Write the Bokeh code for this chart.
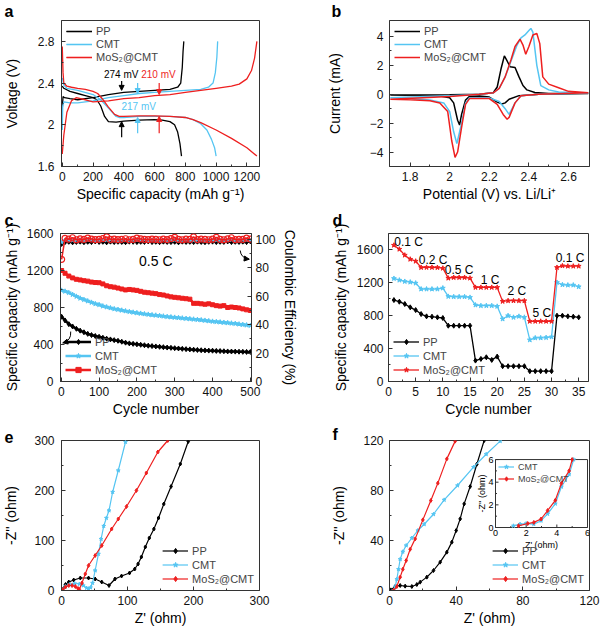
import math
from bokeh.plotting import figure
from bokeh.models import (Range1d, LinearAxis, FixedTicker, Legend, LegendItem,
                          Title, Arrow, NormalHead)
from bokeh.layouts import column, row
from bokeh.embed import file_html
from bokeh.resources import INLINE
from bokeh.core.properties import value

FONT = "Liberation Sans"
C_PP, C_CMT, C_MOS = "#000000", "#55C5F2", "#EE1F1F"
AX = "#333333"
NAMES = ["PP", "CMT", "MoS₂@CMT"]

# ---------------- (a) charge/discharge profiles ----------------
a_pp_dis_cap = [0, 10, 50, 100, 150, 200, 225, 250, 275, 300, 350, 400, 500, 600, 650, 700, 730, 750, 765, 775]
a_pp_dis_v = [2.37, 2.35, 2.32, 2.30, 2.28, 2.26, 2.24, 2.18, 2.08, 2.03, 2.025, 2.035, 2.045, 2.05, 2.045, 2.03, 2.0, 1.93, 1.82, 1.70]
a_pp_chg_cap = [0, 5, 15, 50, 100, 200, 300, 400, 500, 600, 700, 750, 770, 780, 785, 790]
a_pp_chg_v = [2.15, 2.27, 2.26, 2.25, 2.24, 2.26, 2.29, 2.31, 2.32, 2.33, 2.34, 2.36, 2.40, 2.55, 2.70, 2.80]
a_cmt_dis_cap = [0, 10, 30, 100, 200, 250, 300, 350, 370, 400, 500, 600, 700, 800, 850, 900, 940, 970, 990, 1000]
a_cmt_dis_v = [2.45, 2.38, 2.35, 2.33, 2.29, 2.24, 2.16, 2.08, 2.07, 2.07, 2.08, 2.08, 2.08, 2.07, 2.05, 2.01, 1.95, 1.86, 1.78, 1.70]
a_cmt_chg_cap = [0, 3, 10, 50, 100, 200, 300, 400, 500, 600, 700, 800, 900, 950, 980, 995, 1005, 1010]
a_cmt_chg_v = [1.95, 2.18, 2.22, 2.21, 2.21, 2.23, 2.26, 2.28, 2.30, 2.31, 2.32, 2.33, 2.34, 2.36, 2.40, 2.50, 2.65, 2.80]
a_mos_dis_cap = [0, 5, 10, 30, 60, 100, 150, 200, 230, 260, 300, 340, 370, 400, 500, 600, 700, 800, 850, 900, 1000, 1100, 1200, 1265]
a_mos_dis_v = [2.75, 2.50, 2.40, 2.37, 2.36, 2.35, 2.34, 2.32, 2.30, 2.25, 2.17, 2.10, 2.08, 2.08, 2.085, 2.085, 2.08, 2.07, 2.05, 2.02, 1.95, 1.87, 1.78, 1.70]
a_mos_chg_cap = [0, 10, 30, 60, 90, 150, 200, 300, 400, 500, 600, 700, 800, 900, 1000, 1100, 1150, 1200, 1230, 1250, 1265]
a_mos_chg_v = [1.72, 1.90, 2.12, 2.23, 2.26, 2.24, 2.22, 2.23, 2.25, 2.26, 2.28, 2.29, 2.31, 2.33, 2.35, 2.37, 2.39, 2.44, 2.52, 2.64, 2.80]
# polarization arrows: x, upper (start, end), lower (start, end)
a_arrow_x = [386, 490, 630]
a_arrow_up = [(2.42, 2.33), (2.40, 2.30), (2.40, 2.29)]
a_arrow_low = [(1.88, 2.03), (1.92, 2.07), (1.92, 2.08)]
a_notes = ["274 mV", "217 mV", "210 mV"]
a_notes_x = [383, 497, 625]
a_notes_y = [2.48, 2.18, 2.48]

# ---------------- (b) CV ----------------
b_pp_v = [1.70, 2.00, 2.15, 2.22, 2.24, 2.26, 2.276, 2.29, 2.305, 2.33, 2.35, 2.37, 2.39, 2.43, 2.50, 2.70,
          2.70, 2.45, 2.35, 2.30, 2.28, 2.263, 2.24, 2.20, 2.15, 2.10, 2.08, 2.06, 2.05, 2.04, 2.02, 2.00, 1.95, 1.85, 1.70]
b_pp_i = [-0.05, -0.04, 0.0, 0.1, 0.5, 1.8, 2.65, 2.3, 1.9, 1.85, 1.2, 0.6, 0.3, 0.12, 0.05, 0.05,
          0.05, 0.0, -0.1, -0.35, -0.6, -0.67, -0.55, -0.2, -0.12, -0.15, -0.4, -1.4, -2.13, -1.8, -0.6, -0.25, -0.12, -0.08, -0.05]
b_cmt_v = [1.70, 2.00, 2.15, 2.22, 2.25, 2.28, 2.31, 2.34, 2.36, 2.38, 2.40, 2.41, 2.42, 2.44, 2.46, 2.50, 2.55, 2.70,
           2.70, 2.45, 2.36, 2.33, 2.30, 2.28, 2.25, 2.20, 2.10, 2.08, 2.06, 2.04, 2.036, 2.02, 2.00, 1.97, 1.90, 1.80, 1.70]
b_cmt_i = [-0.25, -0.1, 0.0, 0.1, 0.4, 1.2, 2.3, 3.4, 3.9, 4.1, 4.4, 4.55, 4.3, 2.0, 0.6, 0.3, 0.15, 0.08,
           0.08, 0.0, -0.1, -0.6, -1.39, -1.0, -0.5, -0.25, -0.25, -0.6, -2.0, -3.2, -3.41, -2.6, -1.2, -0.6, -0.4, -0.3, -0.25]
b_mos_v = [1.70, 2.00, 2.15, 2.22, 2.25, 2.28, 2.31, 2.33, 2.355, 2.37, 2.384, 2.40, 2.42, 2.44, 2.455, 2.47, 2.50, 2.55, 2.60, 2.70,
           2.70, 2.45, 2.36, 2.33, 2.30, 2.29, 2.27, 2.24, 2.20, 2.10, 2.08, 2.06, 2.04, 2.027, 2.01, 1.99, 1.95, 1.90, 1.80, 1.70]
b_mos_i = [-0.35, -0.15, 0.0, 0.1, 0.4, 1.2, 2.4, 3.3, 3.81, 3.4, 2.76, 3.3, 4.1, 4.2, 3.5, 1.2, 0.7, 0.45, 0.2, 0.1,
           0.1, 0.0, -0.1, -0.6, -1.6, -1.73, -1.4, -0.7, -0.3, -0.3, -0.7, -2.3, -4.0, -4.37, -3.2, -1.2, -0.6, -0.45, -0.38, -0.35]

# ---------------- (c) cycling at 0.5 C ----------------
c_cycles = [1] + list(range(10, 501, 10))
c_cap_pp = [700, 660, 620, 595, 570, 550, 532, 515, 502, 492,
            483, 473, 463, 455, 447, 440, 430, 420, 412, 407,
            402, 397, 392, 387, 383, 379, 375, 371, 367, 364,
            360, 357, 353, 350, 347, 344, 341, 338, 336, 334,
            333, 331, 329, 327, 325, 324, 323, 322, 321, 320,
            320]
c_cap_cmt = [985, 975, 960, 940, 920, 900, 885, 870, 855, 840,
             830, 815, 805, 795, 785, 778, 770, 762, 755, 748,
             742, 736, 730, 725, 720, 716, 711, 706, 701, 697,
             693, 689, 685, 681, 677, 673, 669, 665, 660, 655,
             650, 646, 642, 638, 634, 630, 626, 620, 615, 610,
             605]
c_cap_mos = [1200, 1170, 1140, 1120, 1105, 1098, 1090, 1085, 1075, 1070,
             1068, 1055, 1035, 1025, 1020, 1010, 1000, 990, 995, 990,
             985, 975, 965, 960, 955, 950, 940, 935, 925, 915,
             910, 905, 900, 895, 890, 845, 845, 840, 835, 840,
             830, 820, 815, 820, 800, 805, 800, 795, 785, 775,
             768]
c_ce_pp = [96.5, 97.8, 98.0, 97.6, 97.9, 98.1, 97.7, 98.0, 97.8, 98.2,
           97.9, 98.0, 97.6, 98.1, 97.8, 98.0, 97.9, 97.7, 98.1, 98.0,
           97.8, 98.0, 97.9, 98.2, 97.8, 98.0, 97.7, 98.1, 97.9, 97.8,
           98.0, 97.6, 98.1, 97.9, 98.0, 97.8, 98.1, 97.9, 97.7, 98.0,
           98.1, 97.8, 98.0, 97.9, 98.2, 97.8, 98.0, 97.9, 98.1, 97.8,
           98.3]
c_ce_cmt = [98.0, 99.4, 99.6, 99.3, 99.5, 99.7, 99.4, 99.6, 99.5, 99.3,
            99.6, 99.4, 99.5, 99.7, 99.3, 99.5, 99.6, 99.4, 99.5, 99.6,
            99.4, 99.5, 99.7, 99.3, 99.6, 99.5, 99.4, 99.6, 99.5, 99.3,
            99.6, 99.5, 99.4, 99.7, 99.5, 99.3, 99.6, 99.5, 99.4, 99.6,
            99.5, 99.4, 99.6, 99.5, 99.3, 99.6, 99.5, 99.4, 99.7, 99.5,
            99.4]
c_ce_mos = [86.0, 100.8, 100.2, 101.2, 99.8, 100.4, 100.0, 101.0, 100.3, 99.9,
            100.1, 100.6, 101.8, 100.0, 100.3, 99.9, 100.1, 100.5, 99.8, 100.0,
            100.9, 100.4, 100.1, 99.9, 100.2, 100.0, 99.8, 100.3, 99.9, 100.6,
            101.5, 100.0, 99.8, 100.2, 100.0, 101.8, 99.9, 100.3, 100.0, 99.8,
            100.2, 101.5, 100.0, 99.8, 100.4, 101.2, 99.9, 100.1, 100.0, 101.0,
            100.3]
# curved pointer arrows: (x0, y0, cx, cy, x1, y1) in left-axis units
c_curl = [(25, 540, 27, 441, 4, 418), (473, 1417, 475, 1334, 497, 1322)]

# ---------------- (d) rate capability ----------------
d_cycles = list(range(1, 36))
d_pp = [985, 965, 937, 897, 864, 816, 788, 784, 776, 768,
        675, 675, 675, 675, 675, 253, 273, 293, 261, 301,
        185, 185, 185, 185, 185, 125, 125, 125, 125, 125,
        796, 796, 788, 784, 776]
d_cmt = [1246, 1226, 1210, 1202, 1190, 1118, 1118, 1118, 1118, 1130,
         1029, 1025, 1025, 1025, 1017, 925, 917, 917, 917, 909,
         756, 796, 776, 788, 776, 503, 527, 527, 531, 539,
         1198, 1170, 1166, 1166, 1146]
d_mos = [1648, 1600, 1528, 1479, 1455, 1379, 1380, 1380, 1378, 1370,
         1250, 1258, 1258, 1258, 1250, 1138, 1138, 1138, 1138, 1138,
         969, 977, 977, 977, 977, 728, 728, 728, 728, 728,
         1379, 1399, 1395, 1395, 1395]
d_rates = ["0.1 C", "0.2 C", "0.5 C", "1 C", "2 C", "5 C", "0.1 C"]
d_rates_x = [3.7, 8.2, 13.0, 18.7, 23.6, 28.2, 33.4]
d_rates_y = [1693, 1468, 1347, 1226, 1090, 829, 1492]

# ---------------- (e) Nyquist ----------------
e_pp_x = [1, 6, 11, 18.5, 28.5, 41, 51, 61, 72, 81, 91, 103, 111, 116, 121, 127, 133, 140, 147, 155, 166, 180, 192]
e_pp_y = [3, 12, 17, 21, 25, 25, 23, 17, 10, 23, 29, 35, 43, 53, 67, 87, 105, 123, 145, 173, 208, 253, 298]
e_cmt_x = [2, 6, 12, 20, 27, 33, 38, 41, 44, 47, 51, 56, 60, 64, 68, 72, 77.5, 86, 97]
e_cmt_y = [2, 8, 12, 14, 13, 10, 5, 3, 6, 15, 40, 73, 103, 129, 145, 160, 197, 240, 297]
e_mos_x = [2, 6, 11, 16, 21, 25, 27, 31, 36, 41, 51, 61, 76, 86, 98.5, 113.5, 128.5, 146, 161]
e_mos_y = [2, 7, 10, 10, 8, 4, 2, 15, 33, 50, 70, 90, 123, 143, 168, 200, 235, 277, 300]

# ---------------- (f) Nyquist zoom + inset ----------------
f_pp_x = [0.8, 3.4, 6.4, 9.4, 13.4, 16.4, 18.4, 22.4, 26.4, 30.4, 34.4, 37.4, 40, 42.4, 44.8, 48.4, 52.4, 56.8]
f_pp_y = [0.5, 3.2, 4, 3.5, 3.2, 4.8, 6.7, 10.7, 16, 22.7, 30.7, 38.7, 48, 57.3, 69.3, 83.2, 101, 120]
f_cmt_x = [2.4, 3.4, 4.4, 5.4, 6.4, 8, 10, 13.4, 17, 20.8, 26.4, 32.8, 40.8, 50.4, 58, 66.4]
f_cmt_y = [0, 3, 9, 17, 25, 31, 36, 42, 48, 53, 61, 72.5, 84, 98.7, 109, 119.5]
f_mos_x = [2.4, 4.4, 6.4, 8, 10, 12.4, 15.4, 20, 24.8, 29, 34.4, 39.4]
f_mos_y = [0, 3.2, 10.7, 17, 24, 33, 41.3, 56.5, 72, 85.9, 105.3, 119.5]
f_in_cmt_x = [1.17, 1.6, 2.0, 2.5, 2.97, 3.4, 3.9, 4.3, 4.8, 5.1]
f_in_cmt_y = [0.15, 0.3, 0.35, 0.3, 0.6, 1.2, 2.1, 3.6, 4.7, 6.0]
f_in_mos_x = [1.5, 2.1, 2.5, 2.97, 3.4, 3.9, 4.3, 4.8, 5.0]
f_in_mos_y = [0.15, 0.35, 0.45, 0.75, 1.5, 2.4, 3.9, 5.0, 6.0]
f_in_ticks = [0, 2, 4, 6]

# ---------------- helpers ----------------
def make(w, h, xr, yr, mbl, mbr, mbt, mbb):
    p = figure(width=w, height=h, x_range=Range1d(*xr), y_range=Range1d(*yr),
               output_backend="svg", toolbar_location=None,
               min_border_left=mbl, min_border_right=mbr,
               min_border_top=mbt, min_border_bottom=mbb)
    p.grid.visible = False
    p.outline_line_color = AX
    p.outline_line_width = 1
    p.border_fill_color = "white"
    p._dims = (w, h, mbl, mbr, mbt, mbb)
    return p


def style_axis(ax, label, ticks, title_standoff, label_standoff=5):
    ax.axis_label = label
    minor = [(u + v) / 2 for u, v in zip(ticks, ticks[1:])]
    ax.ticker = FixedTicker(ticks=ticks, minor_ticks=minor)
    ax.axis_label_text_font = FONT
    ax.axis_label_text_font_size = "14px"
    ax.axis_label_text_font_style = "normal"
    ax.axis_label_text_color = "#000000"
    ax.axis_label_standoff = title_standoff
    ax.major_label_text_font = FONT
    ax.major_label_text_font_size = "12px"
    ax.major_label_text_color = "#111111"
    ax.major_label_standoff = label_standoff
    ax.major_tick_in = 4
    ax.major_tick_out = 0
    ax.minor_tick_in = 2
    ax.minor_tick_out = 0
    ax.axis_line_color = AX
    ax.major_tick_line_color = AX
    ax.minor_tick_line_color = AX


def style_legend(leg, loc, size="11px", gw=26, lh=12):
    leg.location = loc
    leg.border_line_alpha = 0
    leg.background_fill_alpha = 0
    leg.label_text_font = FONT
    leg.label_text_font_size = size
    leg.margin = 2
    leg.padding = 3
    leg.spacing = 1
    leg.label_height = lh
    leg.glyph_height = lh
    leg.glyph_width = gw
    leg.label_standoff = 4


def letter(p, txt, fx, standoff):
    w, h, mbl, mbr, mbt, mbb = p._dims
    p.title = Title(text=txt, align="left", offset=fx - mbl, standoff=standoff,
                    text_font=FONT, text_font_size="16px", text_font_style="bold",
                    text_color="#000000")


def series(p, x, y, color, name, marker, size, lw=1.2, **kw):
    p.line(x, y, line_color=color, line_width=lw, legend_label=name, **kw)
    p.scatter(x, y, marker=marker, size=size, fill_color=color, line_color=color,
              legend_label=name, **kw)


W1, W2 = 300, 300
H1, H2, H3 = 204, 215, 210
MB1 = (19, 36)
MB2 = (28, 37)
MB3 = (21, 39)
LR_A, LR_B = (59, 41), (89, 11)
LR_D = (88, 12)

# ---------------- panel a ----------------
pa = make(W1, H1, (-5, 1282), (1.6, 3.0), *LR_A, *MB1)
style_axis(pa.xaxis[0], "Specific capacity (mAh g⁻¹)", [0, 200, 400, 600, 800, 1000, 1200], 2, 5)
style_axis(pa.yaxis[0], "Voltage (V)", [1.6, 2.0, 2.4, 2.8], 15, 7)
for (dx, dy, cx, cy, col, nm) in [
        (a_pp_dis_cap, a_pp_dis_v, a_pp_chg_cap, a_pp_chg_v, C_PP, NAMES[0]),
        (a_cmt_dis_cap, a_cmt_dis_v, a_cmt_chg_cap, a_cmt_chg_v, C_CMT, NAMES[1]),
        (a_mos_dis_cap, a_mos_dis_v, a_mos_chg_cap, a_mos_chg_v, C_MOS, NAMES[2])]:
    pa.line(dx, dy, line_color=col, line_width=1.3, legend_label=nm)
    pa.line(cx, cy, line_color=col, line_width=1.3, legend_label=nm)
for xx, up, low, col in zip(a_arrow_x, a_arrow_up, a_arrow_low, [C_PP, C_CMT, C_MOS]):
    for (ys, ye) in (up, low):
        pa.add_layout(Arrow(end=NormalHead(size=5, fill_color=col, line_color=col),
                            x_start=xx, y_start=ys, x_end=xx, y_end=ye,
                            line_color=col, line_width=1.2))
pa.text(x=a_notes_x, y=a_notes_y, text=a_notes, text_color=[C_PP, C_CMT, C_MOS],
        text_font=value(FONT), text_font_size="10px", text_align="center", text_baseline="middle")
style_legend(pa.legend[0], "top_left")
letter(pa, "a", 2, 1)

# ---------------- panel b ----------------
pb = make(W2, H1, (1.696, 2.706), (-5.0, 5.1), *LR_B, *MB1)
style_axis(pb.xaxis[0], "Potential (V) vs. Li/Li⁺", [1.8, 2.0, 2.2, 2.4, 2.6], 2, 5)
style_axis(pb.yaxis[0], "Current (mA)", [-4, -2, 0, 2, 4], 24, 6)
pb.line(b_pp_v, b_pp_i, line_color=C_PP, line_width=1.5, legend_label=NAMES[0])
pb.line(b_cmt_v, b_cmt_i, line_color=C_CMT, line_width=1.5, legend_label=NAMES[1])
pb.line(b_mos_v, b_mos_i, line_color=C_MOS, line_width=1.5, legend_label=NAMES[2])
style_legend(pb.legend[0], "top_left")
letter(pb, "b", 31, 1)

# ---------------- panel c ----------------
pc = make(W1, H2, (-2, 503), (0, 1600), *LR_A, *MB2)
pc.extra_y_ranges = {"ce": Range1d(0, 104.2)}
style_axis(pc.xaxis[0], "Cycle number", [0, 100, 200, 300, 400, 500], 2, 5)
style_axis(pc.yaxis[0], "Specific capacity (mAh g⁻¹)", [0, 400, 800, 1200, 1600], 4, 7)
ax_r = LinearAxis(y_range_name="ce")
style_axis(ax_r, "Coulombic Efficiency (%)", [0, 20, 40, 60, 80, 100], 3, 4)
pc.add_layout(ax_r, "right")
series(pc, c_cycles, c_cap_pp, C_PP, NAMES[0], "diamond", 5, lw=2.5)
series(pc, c_cycles, c_cap_cmt, C_CMT, NAMES[1], "star", 5, lw=2.5)
series(pc, c_cycles, c_cap_mos, C_MOS, NAMES[2], "square", 4, lw=2.5)
pc.line(c_cycles, c_ce_pp, line_color=C_PP, line_width=1.5, y_range_name="ce")
pc.scatter(c_cycles, c_ce_pp, marker="diamond", size=4, color=C_PP, y_range_name="ce")
pc.line(c_cycles, c_ce_cmt, line_color=C_CMT, line_width=1.5, y_range_name="ce")
pc.scatter(c_cycles, c_ce_cmt, marker="star", size=4, color=C_CMT, y_range_name="ce")
pc.line(c_cycles, c_ce_mos, line_color=C_MOS, line_width=1.5, y_range_name="ce")
pc.scatter(c_cycles, c_ce_mos, marker="circle", size=6, line_color=C_MOS, fill_color=None,
           line_width=1.2, y_range_name="ce")
pc.text(x=[250], y=[1300], text=["0.5 C"], text_font=value(FONT), text_font_size="14px",
        text_align="center", text_baseline="middle", text_color="#000000")
for (x0, y0, cx, cy, x1, y1) in c_curl:
    pc.quadratic(x0=[x0], y0=[y0], x1=[x1], y1=[y1], cx=[cx], cy=[cy], line_color="#000000", line_width=1)
    pc.add_layout(Arrow(end=NormalHead(size=5, fill_color="#000000", line_color="#000000"),
                        x_start=x1 - (x1 - cx) * 0.3, y_start=y1 - (y1 - cy) * 0.3,
                        x_end=x1, y_end=y1, line_color="#000000", line_width=1))
style_legend(pc.legend[0], "bottom_left", lh=13)
letter(pc, "c", 3, 10)

# ---------------- panel d ----------------
pd_ = make(W2, H2, (0, 36.8), (0, 1790), *LR_D, *MB2)
style_axis(pd_.xaxis[0], "Cycle number", [0, 5, 10, 15, 20, 25, 30, 35], 2, 5)
style_axis(pd_.yaxis[0], "Specific capacity (mAh g⁻¹)", [0, 400, 800, 1200, 1600], 5, 5)
series(pd_, d_cycles, d_pp, C_PP, NAMES[0], "diamond", 5, lw=1.3)
series(pd_, d_cycles, d_cmt, C_CMT, NAMES[1], "star", 5, lw=1.3)
series(pd_, d_cycles, d_mos, C_MOS, NAMES[2], "star", 5, lw=1.3)
pd_.text(x=d_rates_x, y=d_rates_y, text=d_rates, text_font=value(FONT), text_font_size="12px",
         text_align="center", text_baseline="middle", text_color="#000000")
style_legend(pd_.legend[0], "bottom_left", lh=13)
letter(pd_, "d", 32, 10)

# ---------------- panel e ----------------
pe = make(W1, H3, (0, 300), (0, 300), *LR_A, *MB3)
style_axis(pe.xaxis[0], "Z' (ohm)", [0, 100, 200, 300], 2, 5)
style_axis(pe.yaxis[0], "-Z'' (ohm)", [0, 100, 200, 300], 12, 7)
series(pe, e_pp_x, e_pp_y, C_PP, NAMES[0], "diamond", 4, lw=1.2)
series(pe, e_cmt_x, e_cmt_y, C_CMT, NAMES[1], "star", 4, lw=1.2)
series(pe, e_mos_x, e_mos_y, C_MOS, NAMES[2], "diamond", 4, lw=1.2)
style_legend(pe.legend[0], "bottom_right", lh=13)
letter(pe, "e", 2, -5)

# ---------------- panel f ----------------
pf = make(W2, H3, (0, 120), (0, 120), *LR_B, *MB3)
style_axis(pf.xaxis[0], "Z' (ohm)", [0, 40, 80, 120], 2, 5)
style_axis(pf.yaxis[0], "-Z'' (ohm)", [0, 40, 80, 120], 13, 6)
series(pf, f_pp_x, f_pp_y, C_PP, NAMES[0], "diamond", 4, lw=1.2)
series(pf, f_cmt_x, f_cmt_y, C_CMT, NAMES[1], "star", 4, lw=1.2)
series(pf, f_mos_x, f_mos_y, C_MOS, NAMES[2], "diamond", 4, lw=1.2)
style_legend(pf.legend[0], "bottom_right", lh=13)

# inset placement (fractions of the frame)
INSET_FX = (0.53, 0.99)
INSET_FY = (0.42, 0.873)
IN_LO, IN_HI = 0, 6


def inset_range(frac):
    span = (IN_HI - IN_LO) / (frac[1] - frac[0])
    start = IN_LO - frac[0] * span
    return Range1d(start, start + span)


pf.extra_x_ranges = {"ix": inset_range(INSET_FX)}
pf.extra_y_ranges = {"iy": inset_range(INSET_FY)}
ik = dict(x_range_name="ix", y_range_name="iy")
pf.quad(left=[IN_LO], right=[IN_HI], bottom=[IN_LO], top=[IN_HI], fill_color="white",
        line_color=AX, line_width=1, **ik)
n = len(f_in_ticks)
minor_in = [(u + v) / 2 for u, v in zip(f_in_ticks, f_in_ticks[1:])]
pf.ray(x=f_in_ticks, y=[IN_LO] * n, length=3, length_units="screen", angle=math.pi / 2,
       line_color=AX, **ik)
pf.ray(x=[IN_LO] * n, y=f_in_ticks, length=3, length_units="screen", angle=0, line_color=AX, **ik)
pf.ray(x=minor_in, y=[IN_LO] * len(minor_in), length=1.5, length_units="screen", angle=math.pi / 2,
       line_color=AX, **ik)
pf.ray(x=[IN_LO] * len(minor_in), y=minor_in, length=1.5, length_units="screen", angle=0,
       line_color=AX, **ik)
pf.text(x=f_in_ticks, y=[IN_LO] * n, text=[str(t) for t in f_in_ticks], y_offset=2,
        text_font=value(FONT), text_font_size="9px", text_align="center", text_baseline="top", **ik)
pf.text(x=[IN_LO] * n, y=f_in_ticks, text=[str(t) for t in f_in_ticks], x_offset=-2,
        text_font=value(FONT), text_font_size="9px", text_align="right", text_baseline="middle", **ik)
pf.text(x=[(IN_LO + IN_HI) / 2], y=[IN_LO], text=["Z' (ohm)"], y_offset=12,
        text_font=value(FONT), text_font_size="9px", text_align="center", text_baseline="top", **ik)
pf.text(x=[IN_LO], y=[(IN_LO + IN_HI) / 2], text=["-Z'' (ohm)"], x_offset=-9, angle=math.pi / 2,
        text_font=value(FONT), text_font_size="9px", text_align="center", text_baseline="bottom", **ik)
r1 = pf.line(f_in_cmt_x, f_in_cmt_y, line_color=C_CMT, line_width=1.2, **ik)
r2 = pf.scatter(f_in_cmt_x, f_in_cmt_y, marker="star", size=4, color=C_CMT, **ik)
r3 = pf.line(f_in_mos_x, f_in_mos_y, line_color=C_MOS, line_width=1.2, **ik)
r4 = pf.scatter(f_in_mos_x, f_in_mos_y, marker="diamond", size=4, color=C_MOS, **ik)
fw = W2 - LR_B[0] - LR_B[1]
fh = H3 - MB3[0] - MB3[1]
leg_in = Legend(items=[LegendItem(label=NAMES[1], renderers=[r1, r2]),
                       LegendItem(label=NAMES[2], renderers=[r3, r4])])
style_legend(leg_in, (INSET_FX[0] * fw + 1, INSET_FY[1] * fh - 27), size="9px", gw=16, lh=11)
leg_in.margin = 0
leg_in.padding = 2
pf.add_layout(leg_in, "center")
letter(pf, "f", 32, -5)

layout = column(row(pa, pb), row(pc, pd_), row(pe, pf))
open("out.html", "w").write(file_html(layout, INLINE))
